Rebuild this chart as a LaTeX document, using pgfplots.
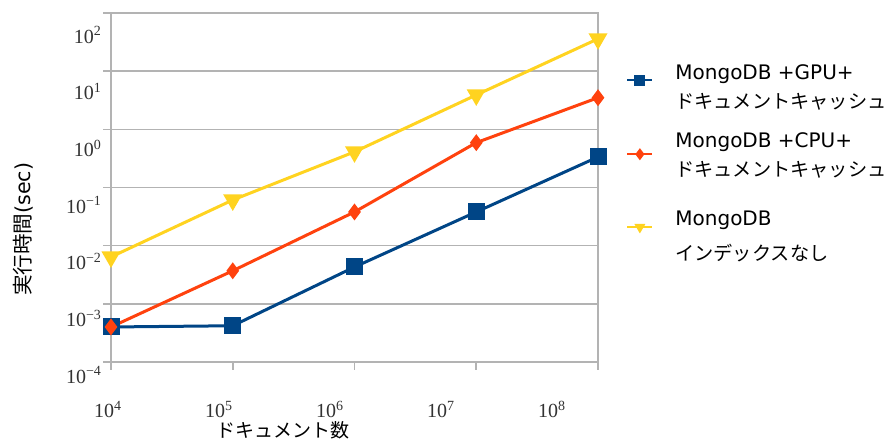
\documentclass[border=0pt]{standalone}
\usepackage{pgfplots}
\pgfplotsset{compat=1.18}
\usepackage{fontspec}
\setmainfont{Liberation Serif}
\newfontfamily\cjk{Noto Sans CJK JP}
\newfontfamily\lat{DejaVu Sans}
\definecolor{cblue}{HTML}{004586}
\definecolor{cred}{HTML}{FF420E}
\definecolor{cyel}{HTML}{FFD320}
\definecolor{cgrid}{HTML}{B3B3B3}
\newcommand{\lt}[1]{{\lat\fontsize{10bp}{14.5bp}\selectfont #1}}
\newcommand{\jp}[1]{{\cjk\fontsize{9.6bp}{14.5bp}\selectfont #1}}
\pgfplotsset{legimg/.style={legend image code/.code={\draw[mark repeat=2,mark phase=2,##1,line width=1bp,mark size=2.2bp] plot coordinates {(0bp,#1) (6.25bp,#1) (12.5bp,#1)};}}}
\begin{document}
\begin{tikzpicture}
\begin{axis}[
  scale only axis, width=243.5bp, height=174.5bp,
  xmode=log, ymode=log,
  xmin=1e4, xmax=1e8, ymin=1e-4, ymax=1e2,
  xtick={1e4,1e5,1e6,1e7,1e8},
  xticklabels={10\textsuperscript{4},10\textsuperscript{5},10\textsuperscript{6},10\textsuperscript{7},10\textsuperscript{8}},
  ytick={1e-4,1e-3,1e-2,1e-1,1,1e1,1e2},
  yticklabels={10\textsuperscript{−4},10\textsuperscript{−3},10\textsuperscript{−2},10\textsuperscript{−1},10\textsuperscript{0},10\textsuperscript{1},10\textsuperscript{2}},
  minor tick length=0pt, minor tick style={draw=none},
  xtick pos=bottom, ytick pos=left,
  ymajorgrids, major grid style={cgrid, line width=0.8bp},
  axis line style={cgrid, line width=0.8bp},
  tick style={cgrid, line width=0.8bp},
  tick align=outside, major tick length=4bp,
  ticklabel style={font=\fontsize{10bp}{12bp}\selectfont, text=black!80},
  xticklabel style={yshift=-12bp, xshift={-1.5bp-\ticknum*5.35bp}},
  yticklabel style={xshift=3bp, yshift={-6.5bp-\ticknum*0.75bp}},
  xlabel={\cjk ドキュメント数},
  xlabel style={at={(axis description cs:0.353,-0.195)}, anchor=center, font=\fontsize{9.5bp}{12bp}\selectfont},
  ylabel={{\cjk 実行時間}{\lat (sec)}},
  ylabel style={at={(axis description cs:-0.18,0.38)}, anchor=center, font=\fontsize{10.3bp}{12bp}\selectfont},
  legend style={draw=none, fill=none, at={(rel axis cs:1,1)}, anchor=north west,
    xshift=11bp, yshift=-19bp, row sep=2.7bp, column sep=9bp,
    nodes={align=left, font=\fontsize{9.6bp}{14.5bp}\selectfont}},
  legend cell align=left,
]
\addplot[cblue, line width=1.5bp, mark=square*, mark size=3.5bp, mark options={solid}, legimg=2.5bp]
  coordinates {(1e4,4.0e-4) (1e5,4.2e-4) (1e6,4.3e-3) (1e7,0.038) (1e8,0.335)};
\addlegendentry{\rule{0pt}{10bp}\lt{MongoDB +GPU+}\\\jp{ドキュメントキャッシュ}}
\addplot[cred, line width=1.5bp, mark=diamond*, mark size=3bp, mark options={solid}, legimg=-1bp]
  coordinates {(1e4,4.0e-4) (1e5,3.7e-3) (1e6,0.038) (1e7,0.59) (1e8,3.5)};
\addlegendentry{\rule{0pt}{11.5bp}\lt{MongoDB +CPU+}\\\jp{ドキュメントキャッシュ}}
\addplot[cyel, line width=1.5bp, mark=triangle*, mark size=4bp, mark options={solid, rotate=180}, legimg=0.5bp]
  coordinates {(1e4,6.4e-3) (1e5,0.061) (1e6,0.41) (1e7,3.9) (1e8,36)};
\addlegendentry{\rule{0pt}{16bp}\lt{MongoDB}\\[3bp]\jp{インデックスなし}}
\coordinate (ll) at (rel axis cs:0,0);
\coordinate (ur) at (rel axis cs:1,1);
\end{axis}
\pgfresetboundingbox
\path ([xshift=-55.5bp,yshift=-42bp]ll) rectangle ([xshift=147.5bp,yshift=6.5bp]ur);
\end{tikzpicture}
\end{document}
